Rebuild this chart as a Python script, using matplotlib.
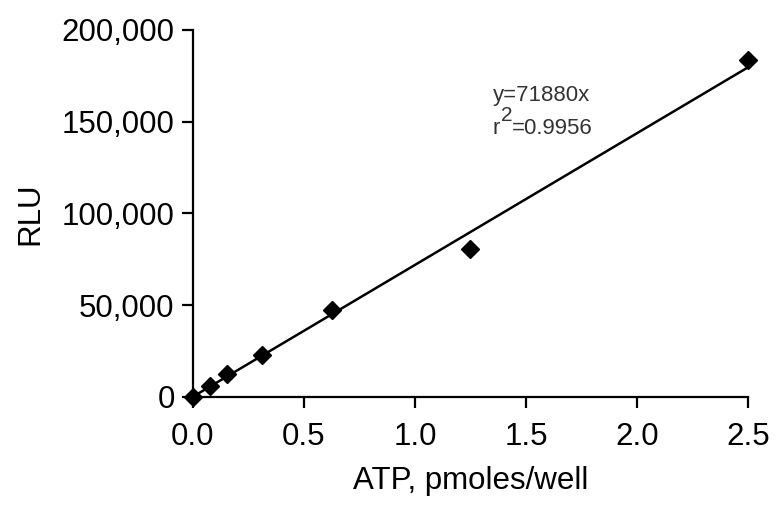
import numpy as np
import matplotlib
matplotlib.use("Agg")
import matplotlib.pyplot as plt
from matplotlib.ticker import FuncFormatter

plt.rcParams['font.family'] = ['Liberation Sans', 'DejaVu Sans']

# ATP standard curve
atp = [0, 0.078, 0.156, 0.3125, 0.625, 1.25, 2.5]
rlu = [0, 6000, 12500, 23000, 47400, 80600, 183600]
slope = 71880
r2 = 0.9956

fig = plt.figure(figsize=(7.77, 5.16), dpi=100)
ax = fig.add_axes([0.248, 0.231, 0.715, 0.711])

xfit = np.array([0, 2.5])
ax.plot(xfit, slope * xfit, color='black', lw=1.8, zorder=2)
ax.plot(atp, rlu, 'D', color='black', ms=9, clip_on=False, zorder=3)

# fit equation, with a hand-placed superscript like the original
tc = '#333333'
ax.text(1.35, 161000, f"y={slope}x", fontsize=16, color=tc)
ax.annotate("r", (1.35, 143500), fontsize=16, color=tc)
ax.annotate("2", (1.35, 143500), xytext=(6, 9), textcoords='offset points',
            fontsize=15, color=tc)
ax.annotate(f"={r2}", (1.35, 143500), xytext=(14, 0), textcoords='offset points',
            fontsize=16, color=tc)

ax.set_xlim(0, 2.5)
ax.set_ylim(0, 200000)
ax.set_xticks([0, 0.5, 1.0, 1.5, 2.0, 2.5])
ax.set_yticks([0, 50000, 100000, 150000, 200000])
ax.xaxis.set_major_formatter(FuncFormatter(lambda v, p: f"{v:.1f}"))
ax.yaxis.set_major_formatter(FuncFormatter(lambda v, p: f"{int(v):,}"))

for s in ['top', 'right']:
    ax.spines[s].set_visible(False)
for s in ['left', 'bottom']:
    ax.spines[s].set_linewidth(1.6)
ax.tick_params(width=1.6, length=8, labelsize=22.5, pad=5)
ax.tick_params(axis='x', pad=10)

ax.set_xlabel("ATP, pmoles/well", fontsize=22.5, labelpad=10)
ax.set_ylabel("RLU", fontsize=22.5, labelpad=12)

fig.savefig("out.png", dpi=100)
